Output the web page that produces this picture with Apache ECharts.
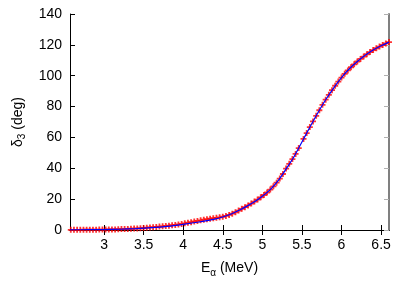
<!DOCTYPE html>
<html><head><meta charset="utf-8">
<script src="https://cdn.jsdelivr.net/npm/echarts@6/dist/echarts.min.js"></script>
<style>html,body{margin:0;padding:0;background:#fff}#c{width:415px;height:291px}</style>
</head><body><div id="c"></div>
<script>
// Red data points (energy in MeV, phase shift in deg)
const dataE = [2.58,2.62,2.66,2.70,2.74,2.78,2.82,2.86,2.90,2.94,2.98,3.02,3.06,3.10,3.14,3.18,3.22,3.26,3.30,3.34,3.38,3.42,3.46,3.50,3.54,3.58,3.62,3.66,3.70,3.74,3.78,3.82,3.86,3.90,3.94,3.98,4.02,4.06,4.10,4.14,4.18,4.22,4.26,4.30,4.34,4.38,4.42,4.46,4.50,4.54,4.58,4.62,4.66,4.70,4.74,4.78,4.82,4.86,4.90,4.94,4.98,5.02,5.06,5.10,5.14,5.18,5.22,5.26,5.30,5.34,5.38,5.42,5.46,5.52,5.56,5.60,5.64,5.68,5.72,5.76,5.80,5.84,5.88,5.92,5.96,6.00,6.04,6.08,6.12,6.16,6.20,6.24,6.28,6.32,6.36,6.40,6.44,6.48,6.52,6.56,6.60];
const dataDelta = [0.1,0.1,0.1,0.1,0.2,0.2,0.2,0.2,0.2,0.3,0.3,0.3,0.4,0.4,0.4,0.5,0.6,0.6,0.7,0.8,0.9,1.0,1.1,1.3,1.5,1.7,1.8,2.0,2.2,2.4,2.6,2.8,3.1,3.3,3.6,3.9,4.3,4.7,5.1,5.5,5.9,6.3,6.7,7.0,7.3,7.6,7.9,8.2,8.6,9.1,9.8,10.6,11.5,12.6,13.7,14.8,15.9,17.1,18.4,19.7,21.2,22.7,24.3,26.2,28.3,30.7,33.3,36.3,39.8,42.9,46.0,49.3,53.1,59.0,62.8,66.7,70.4,74.0,77.6,81.1,84.5,87.6,90.6,93.5,96.2,98.8,101.2,103.4,105.5,107.4,109.2,110.9,112.4,113.9,115.3,116.6,117.8,118.9,119.9,120.9,121.8];
// Blue fitted curve
const fitE = [2.57,2.8,3.0,3.2,3.4,3.6,3.8,4.0,4.2,4.4,4.5,4.6,4.7,4.8,4.9,5.0,5.1,5.2,5.3,5.4,5.5,5.6,5.7,5.8,5.9,6.0,6.1,6.2,6.3,6.4,6.5,6.6];
const fitDelta = [0.1,0.2,0.3,0.5,0.9,1.5,2.4,3.7,5.2,7.0,8.4,10.2,12.6,15.3,18.3,21.9,26.2,32.0,39.6,47.5,57.0,66.6,75.8,84.4,92.0,98.8,104.5,109.2,113.2,116.6,119.4,121.8];
const xTicks = [3,3.5,4,4.5,5,5.5,6,6.5];

const font = 'Liberation Sans, Arial, sans-serif';
const chart = echarts.init(document.getElementById('c'), null, {renderer:'canvas'});
const axLine = {show:true, lineStyle:{color:'#000', width:1}};
const tickStyle = {lineStyle:{color:'#000', width:1}};
const richName = {a:{fontSize:14, fontFamily:font, color:'#000', lineHeight:20}, s:{fontSize:10, fontFamily:font, color:'#000', lineHeight:10, verticalAlign:'bottom'}};
chart.setOption({
  animation:false,
  backgroundColor:'#fff',
  grid:{left:70, right:26, top:14, bottom:61, containLabel:false},
  xAxis:[{
    type:'value', min:2.57, max:6.6, position:'bottom',
    axisLine:axLine,
    axisTick:{show:true, inside:true, length:5, customValues:xTicks, ...tickStyle},
    axisLabel:{show:true, customValues:xTicks, margin:8, color:'#000', fontSize:14, fontFamily:font, formatter:v=>String(v)},
    splitLine:{show:false},
    name:'{a|E}{s|α}{a| (MeV)}', nameLocation:'middle', nameGap:28,
    nameTextStyle:{rich:richName}
  },{
    type:'value', min:2.57, max:6.6, position:'top',
    axisLine:axLine,
    axisTick:{show:true, inside:true, length:5, customValues:xTicks, ...tickStyle},
    axisLabel:{show:false}, splitLine:{show:false}
  }],
  yAxis:[{
    type:'value', min:0, max:140, interval:20, position:'left',
    axisLine:axLine,
    axisTick:{show:true, inside:true, length:5, ...tickStyle},
    axisLabel:{show:true, margin:8, color:'#000', fontSize:14, fontFamily:font},
    splitLine:{show:false},
    name:'{a|δ}{s|3}{a| (deg)}', nameLocation:'middle', nameGap:40, nameRotate:90,
    nameTextStyle:{rich:richName}
  },{
    type:'value', min:0, max:140, interval:20, position:'right',
    axisLine:{show:true, lineStyle:{color:'#808080', width:2}},
    axisTick:{show:true, inside:true, length:5, lineStyle:{color:'#b0b0b0', width:1}},
    axisLabel:{show:false}, splitLine:{show:false}
  }],
  series:[{
    type:'scatter', xAxisIndex:0, yAxisIndex:0,
    data:dataE.map((e,i)=>[e,dataDelta[i]]),
    symbol:'path://M3.5,0H6.5V3.5H10V6.5H6.5V10H3.5V6.5H0V3.5H3.5Z', symbolSize:6,
    itemStyle:{color:'#ff0000', opacity:0.8}, z:2
  },{
    type:'line', xAxisIndex:0, yAxisIndex:0,
    data:fitE.map((e,i)=>[e,fitDelta[i]]),
    smooth:0.3, showSymbol:false,
    lineStyle:{color:'#0000ff', width:1.2}, z:3
  }]
});
</script></body></html>
